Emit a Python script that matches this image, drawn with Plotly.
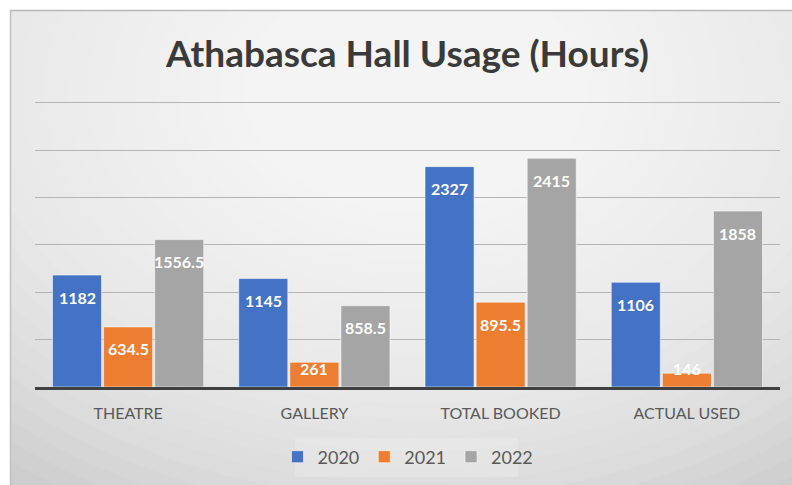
import plotly.graph_objects as go

# data
categories = ['THEATRE', 'GALLERY', 'TOTAL BOOKED', 'ACTUAL USED']
years = ['2020', '2021', '2022']
hours_2020 = [1182, 1145, 2327, 1106]
hours_2021 = [634.5, 261, 895.5, 146]
hours_2022 = [1556.5, 858.5, 2415, 1858]
y_ticks = [0, 500, 1000, 1500, 2000, 2500, 3000]

colors = ['#4472C4', '#ED7D31', '#A5A5A5']
series = [hours_2020, hours_2021, hours_2022]

W, H = 792, 485
L, R, T, B = 35, 780, 101, 387  # plot area in pixels
Y_MAX = 3020


def px_x(x):
    return (x - L) / (R - L)


def px_y(y):
    return (B - y) / (B - T)


fig = go.Figure()

for name, vals, col in zip(years, series, colors):
    fig.add_trace(go.Bar(
        x=categories,
        y=vals,
        name=name,
        marker=dict(color=col, line=dict(color='rgba(255,255,255,0.55)', width=1)),
        hovertemplate='%{x}<br>' + name + ': %{y}<extra></extra>'
    ))

# value labels, inside end like Excel
unit_px = (B - T) / Y_MAX
annotations = []
for i, vals in enumerate(series):
    for cat, v in zip(categories, vals):
        ylab = max(v - 22 / unit_px, 19 / unit_px)
        annotations.append(dict(
            x=cat, y=ylab, xref='x', yref='y',
            text=f'{v:g}', showarrow=False,
            xshift=(i - 1) * 51,
            font=dict(family='Lato', size=16, color='white', weight='bold'),
            yanchor='middle'
        ))

# background card with a soft radial gradient
shapes = [
    dict(type='rect', xref='paper', yref='paper', layer='below',
         x0=px_x(10), x1=px_x(W + 5), y0=px_y(10), y1=px_y(H + 5),
         fillcolor='#c5c5c5', line=dict(width=0)),
]
cx, cy = 415, 90
n = 30
for k in range(n):
    rx = 700 - k * 22
    ry = rx * 0.72
    shapes.append(dict(
        type='circle', xref='paper', yref='paper', layer='below',
        x0=px_x(cx - rx), x1=px_x(cx + rx),
        y0=px_y(cy + ry), y1=px_y(cy - ry),
        fillcolor='white', opacity=0.08, line=dict(width=0)
    ))
# mask outside the card
shapes += [
    dict(type='rect', xref='paper', yref='paper', layer='below',
         x0=px_x(-5), x1=px_x(10), y0=px_y(-5), y1=px_y(H + 5),
         fillcolor='white', line=dict(width=0)),
    dict(type='rect', xref='paper', yref='paper', layer='below',
         x0=px_x(-5), x1=px_x(W + 5), y0=px_y(-5), y1=px_y(10),
         fillcolor='white', line=dict(width=0)),
    dict(type='line', xref='paper', yref='paper', layer='below',
         x0=px_x(10), x1=px_x(W + 5), y0=px_y(10.5), y1=px_y(10.5),
         line=dict(color='#b8b8b8', width=1.5)),
    dict(type='line', xref='paper', yref='paper', layer='below',
         x0=px_x(10.5), x1=px_x(10.5), y0=px_y(10), y1=px_y(H + 5),
         line=dict(color='#c0c0c0', width=1.5)),
    # legend box
    dict(type='rect', xref='paper', yref='paper', layer='below',
         x0=px_x(295), x1=px_x(518), y0=px_y(438), y1=px_y(477),
         fillcolor='rgba(255,255,255,0.18)', line=dict(width=0)),
]

fig.update_layout(
    width=W, height=H,
    margin=dict(l=L, r=W - R, t=T, b=H - B, autoexpand=False),
    paper_bgcolor='white',
    plot_bgcolor='rgba(0,0,0,0)',
    font=dict(family='Lato', color='#595959'),
    title=dict(
        text='<b>Athabasca Hall Usage (Hours)</b>',
        x=0.5, xref='paper', xanchor='center',
        y=1 - 54 / H, yref='container', yanchor='middle',
        font=dict(family='Lato', size=37, color='#3a3a3a')
    ),
    barmode='group',
    bargap=0.177,
    bargroupgap=0.04,
    showlegend=True,
    legend=dict(
        orientation='h', x=px_x(408), xanchor='center',
        y=px_y(457), yanchor='middle',
        bgcolor='rgba(0,0,0,0)',
        font=dict(family='Lato', size=18, color='#595959'),
        itemwidth=30, traceorder='normal'
    ),
    xaxis=dict(
        showgrid=False, showline=True, linecolor='#404040', linewidth=2.5,
        ticks='outside', ticklen=10, tickcolor='rgba(0,0,0,0)',
        tickfont=dict(family='Lato', size=16, color='#595959'),
        zeroline=False
    ),
    yaxis=dict(
        range=[0, Y_MAX], tickvals=y_ticks, showticklabels=False,
        showgrid=True, gridcolor='#b3b3b3', gridwidth=1,
        zeroline=False, fixedrange=True
    ),
    annotations=annotations,
    shapes=shapes
)

fig.write_html("out.html", config={'displayModeBar': False},
               post_script="document.body.style.margin='0';")
